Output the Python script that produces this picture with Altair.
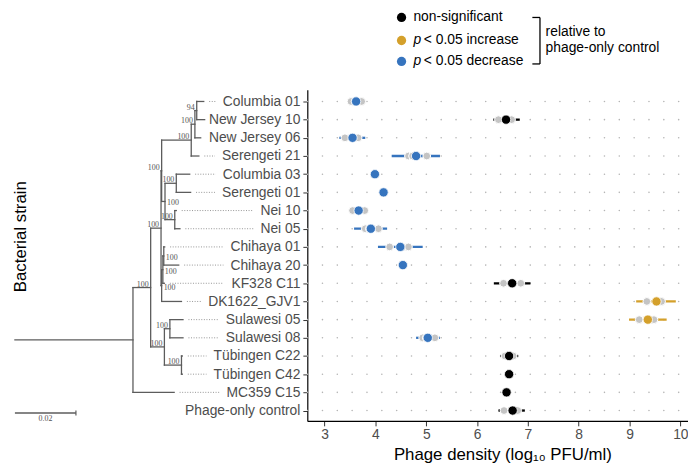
import altair as alt
import pandas as pd

# ---------------- data ----------------
strains = ["Columbia 01", "New Jersey 10", "New Jersey 06", "Serengeti 21", "Columbia 03",
           "Serengeti 01", "Nei 10", "Nei 05", "Chihaya 01", "Chihaya 20", "KF328 C11",
           "DK1622_GJV1", "Sulawesi 05", "Sulawesi 08", "Tübingen C22", "Tübingen C42",
           "MC359 C15", "Phage-only control"]
means = [3.62, 6.57, 3.55, 4.80, 3.99, 4.16, 3.67, 3.91, 4.49, 4.54, 6.69, 9.53, 9.36,
         5.03, 6.63, 6.63, 6.58, 6.70]
ci_low = [3.47, 6.32, 3.29, 4.32, 3.95, 4.12, 3.51, 3.58, 4.05, 4.50, 6.33, 9.13, 8.99,
          4.80, 6.46, 6.59, 6.54, 6.42]
ci_high = [3.78, 6.84, 3.80, 5.27, 4.03, 4.20, 3.84, 4.23, 4.93, 4.58, 7.05, 9.91, 9.73,
           5.27, 6.81, 6.67, 6.62, 6.94]
significance = ["decrease", "ns", "decrease", "decrease", "decrease", "decrease", "decrease",
                "decrease", "decrease", "decrease", "ns", "increase", "increase", "decrease",
                "ns", "ns", "ns", "ns"]
replicates = [[3.52, 3.60, 3.73], [6.42, 6.60, 6.68], [3.40, 3.58, 3.66], [4.65, 4.73, 5.01],
              [3.97, 3.99, 4.01], [4.14, 4.16, 4.18], [3.55, 3.67, 3.79], [3.80, 3.88, 4.06],
              [4.28, 4.54, 4.65], [4.52, 4.54, 4.56], [6.52, 6.69, 6.86], [9.34, 9.62, 9.63],
              [9.19, 9.40, 9.48], [4.93, 5.00, 5.17], [6.55, 6.63, 6.71], [6.61, 6.63, 6.65],
              [6.56, 6.58, 6.60], [6.53, 6.76, 6.80]]
x_ticks = [3, 4, 5, 6, 7, 8, 9, 10]

# phylogeny (tree units = substitutions/site); tips in the order of strains[0:17]
tip_depth = [0.0619, 0.0622, 0.0609, 0.0603, 0.0573, 0.0576, 0.0529, 0.0541, 0.0491, 0.0537,
             0.0490, 0.0546, 0.0551, 0.0551, 0.0549, 0.0549, 0.0522]
node_names = ["E", "D", "F", "H", "J", "K", "G", "N1", "N2", "N3", "L", "T", "U", "S", "A", "R"]
node_children = [["Columbia 01", "New Jersey 10"], ["E", "New Jersey 06"], ["D", "Serengeti 21"],
                 ["Columbia 03", "Serengeti 01"], ["Nei 10", "Nei 05"], ["H", "J"], ["F", "K"],
                 ["Chihaya 01", "Chihaya 20"], ["N1", "KF328 C11"], ["N2", "DK1622_GJV1"],
                 ["G", "N3"], ["Sulawesi 05", "Sulawesi 08"], ["Tübingen C22", "Tübingen C42"],
                 ["T", "U"], ["L", "S"], ["A", "MC359 C15"]]
node_depth = [0.0596, 0.0590, 0.0578, 0.0529, 0.0524, 0.0492, 0.0481, 0.0488, 0.0485, 0.0481,
              0.0479, 0.0508, 0.0546, 0.0490, 0.0445, 0.0387]
node_support = [94, 100, 100, 100, 100, 100, 100, 100, 100, 100, 100, 100, 100, 100, 100, None]
scale_bar = 0.02

# ---------------- layout constants ----------------
W, H = 385, 335
PLOT_LEFT = 310.7          # page x of plot origin
TREE_LEFT = 15.0           # page x of tree origin
PX_PER_UNIT = 3085.0
LABEL_RIGHT = PLOT_LEFT - 7.0
BLUE, GOLD = "#3674BE", "#D4A02B"

ARIAL = {' ': 278, '-': 333, '_': 556, 'A': 667, 'B': 667, 'C': 722, 'D': 722, 'E': 667, 'F': 611,
         'G': 778, 'H': 722, 'I': 278, 'J': 500, 'K': 667, 'L': 556, 'M': 833, 'N': 722, 'O': 778,
         'P': 667, 'R': 722, 'S': 667, 'T': 611, 'U': 722, 'V': 667, 'W': 944, 'a': 556, 'b': 556,
         'c': 500, 'd': 556, 'e': 556, 'f': 278, 'g': 556, 'h': 556, 'i': 222, 'j': 222, 'k': 500,
         'l': 222, 'm': 833, 'n': 556, 'o': 556, 'p': 556, 'r': 333, 's': 500, 't': 278, 'u': 556,
         'w': 722, 'y': 500, 'z': 500, 'ü': 556}


def text_width(s, size):
    return sum(ARIAL.get(ch, 556) for ch in s) * size / 1000.0


# ---------------- tree layout ----------------
pos_y = {s: i for i, s in enumerate(strains[:17])}
depth = {s: d for s, d in zip(strains[:17], tip_depth)}
for n, ch, d in zip(node_names, node_children, node_depth):
    depth[n] = d
    pos_y[n] = sum(pos_y[c] for c in ch) / len(ch)

segs = []
for n, ch in zip(node_names, node_children):
    ys = [pos_y[c] for c in ch]
    segs.append(dict(x=depth[n], x2=depth[n], y=min(ys), y2=max(ys)))
    for c in ch:
        segs.append(dict(x=depth[n], x2=depth[c], y=pos_y[c], y2=pos_y[c]))
segs.append(dict(x=0.0, x2=depth["R"], y=pos_y["R"], y2=pos_y["R"]))
seg_df = pd.DataFrame(segs)

leaders = []
for s in strains[:17]:
    start_px = TREE_LEFT + depth[s] * PX_PER_UNIT + 5.5
    end_px = LABEL_RIGHT - text_width(s, 14) - 7.0
    if end_px - start_px > 2:
        leaders.append(dict(x=(start_px - TREE_LEFT) / PX_PER_UNIT,
                            x2=(end_px - TREE_LEFT) / PX_PER_UNIT, y=pos_y[s]))
lead_df = pd.DataFrame(leaders)

right_side = {"K", "N1", "N2", "N3"}
lab_left = pd.DataFrame([dict(x=depth[n], y=pos_y[n], t=str(sp))
                         for n, sp in zip(node_names, node_support)
                         if sp is not None and n not in right_side])
lab_right = pd.DataFrame([dict(x=depth[n], y=pos_y[n], t=str(sp))
                          for n, sp in zip(node_names, node_support)
                          if sp is not None and n in right_side])

# ---------------- scales ----------------
y_scale = alt.Scale(domain=[-0.65, 17.57], reverse=True, nice=False, zero=False)
label_expr = "[" + ",".join("'" + s + "'" for s in strains) + "][datum.value]"
y_axis = alt.Axis(values=list(range(len(strains))), labelExpr=label_expr, title=None,
                  labelFontSize=14, labelColor="#4d4d4d", labelFont="Liberation Sans",
                  labelPadding=3, labelOverlap=False, tickSize=4.5, tickColor="#333333",
                  domainColor="black", domainWidth=1.2, grid=False)
tree_x = alt.Scale(domain=[0, 0.1], range=[TREE_LEFT - PLOT_LEFT, TREE_LEFT - PLOT_LEFT + 0.1 * PX_PER_UNIT],
                   nice=False, zero=False)
main_x = alt.Scale(domain=[2.66, 10.15], nice=False, zero=False)
x_axis = alt.Axis(values=x_ticks, title="Phage density (log₁₀ PFU/ml)", titleFontSize=17,
                  titleFont="Liberation Sans", titleFontWeight="normal", titleColor="black",
                  titleX=197.3, titlePadding=5, labelFontSize=14, labelColor="#4d4d4d",
                  labelFont="Liberation Sans", labelPadding=2, labelFlush=False, tickSize=5,
                  tickColor="#333333", domainColor="black", domainWidth=1.2, grid=False)


def Y(field="y"):
    return alt.Y(field + ":Q", scale=y_scale, axis=y_axis)


# ---------------- tree layers ----------------
branches = alt.Chart(seg_df).mark_rule(color="#5c5c5c", strokeWidth=1.3, strokeCap="square").encode(
    x=alt.X("x:Q", scale=tree_x, axis=None), x2="x2:Q", y=Y(), y2="y2:Q")
leader_lines = alt.Chart(lead_df).mark_rule(color="#7a7a7a", strokeWidth=0.8, strokeDash=[1, 1.6]).encode(
    x=alt.X("x:Q", scale=tree_x, axis=None), x2="x2:Q", y=Y())
supp_l = alt.Chart(lab_left).mark_text(align="right", baseline="alphabetic", dx=-2, dy=-1,
                                        font="Liberation Serif", fontSize=8, color="#555555").encode(
    x=alt.X("x:Q", scale=tree_x, axis=None), y=Y(), text="t:N")
supp_r = alt.Chart(lab_right).mark_text(align="left", baseline="alphabetic", dx=2, dy=4,
                                         font="Liberation Serif", fontSize=8, color="#555555").encode(
    x=alt.X("x:Q", scale=tree_x, axis=None), y=Y(), text="t:N")
sb_df = pd.DataFrame({"x": [0.0], "x2": [scale_bar], "mid": [scale_bar / 2], "t": [str(scale_bar)]})
sb_line = alt.Chart(sb_df).mark_rule(color="#5c5c5c", strokeWidth=1.3).encode(
    x=alt.X("x:Q", scale=tree_x, axis=None), x2="x2:Q", y=alt.value(415 - 88))
sb_tick = alt.Chart(sb_df).mark_rule(color="#5c5c5c", strokeWidth=1.2).encode(
    x=alt.X("x2:Q", scale=tree_x, axis=None), y=alt.value(415 - 88 - 2.5), y2=alt.value(415 - 88 + 2.5))
sb_text = alt.Chart(sb_df).mark_text(font="Liberation Serif", fontSize=8, color="#555555",
                                      baseline="middle").encode(
    x=alt.X("mid:Q", scale=tree_x, axis=None), y=alt.value(421 - 88), text="t:N")
tree = alt.layer(branches, leader_lines, supp_l, supp_r, sb_line, sb_tick, sb_text)

# ---------------- dot plot ----------------
df = pd.DataFrame({"y": list(range(len(strains))), "x": means, "lo": ci_low, "hi": ci_high,
                   "sig": significance})
rep_df = pd.DataFrame([dict(y=i, x=v) for i, reps in enumerate(replicates) for v in reps])
color = alt.Color("sig:N", scale=alt.Scale(domain=["ns", "increase", "decrease"],
                                           range=["black", GOLD, BLUE]), legend=None)

grid = alt.Chart(df).mark_rule(color="#b5b5b5", strokeWidth=1.6, strokeCap="round",
                               strokeDash=[0.01, 15], strokeDashOffset=14.7).encode(
    x=alt.value(0), x2=alt.value(W), y=Y())
err = alt.Chart(df).mark_rule(strokeWidth=2.3).encode(
    x=alt.X("lo:Q", scale=main_x, axis=x_axis), x2="hi:Q", y=Y(), color=color)
reps = alt.Chart(rep_df).mark_circle(size=62, color="#c4c4c4", opacity=1, stroke="white",
                                     strokeWidth=1).encode(
    x=alt.X("x:Q", scale=main_x, axis=x_axis), y=Y())
pts = alt.Chart(df).mark_circle(size=88, opacity=1, stroke="white", strokeWidth=0.8).encode(
    x=alt.X("x:Q", scale=main_x, axis=x_axis), y=Y(), color=color)

one = pd.DataFrame({"a": [0]})
LX = 406 - PLOT_LEFT
TX = 418 - PLOT_LEFT
legend_y = [15 - 88, 38.3 - 88, 59.5 - 88]
legend_cols = ["black", GOLD, BLUE]
legend_layers = []
for yy, col in zip(legend_y, legend_cols):
    legend_layers.append(alt.Chart(one).mark_circle(size=88, color=col, opacity=1).encode(
        x=alt.value(LX), y=alt.value(yy)))
legend_layers.append(alt.Chart(one).mark_text(text="non-significant", align="left", baseline="middle",
                                              font="Liberation Sans", fontSize=14, color="black").encode(
    x=alt.value(TX), y=alt.value(legend_y[0])))
for yy, word in zip(legend_y[1:], ["increase", "decrease"]):
    legend_layers.append(alt.Chart(one).mark_text(text="p", align="left", baseline="middle",
                                                  font="Liberation Sans", fontStyle="italic",
                                                  fontSize=14, color="black").encode(
        x=alt.value(TX), y=alt.value(yy)))
    legend_layers.append(alt.Chart(one).mark_text(text="< 0.05 " + word, align="left", baseline="middle",
                                                  font="Liberation Sans", fontSize=14, color="black").encode(
        x=alt.value(TX + 10.5), y=alt.value(yy)))
bx0, bx1 = 538.3 - PLOT_LEFT, 546 - PLOT_LEFT
by0, by1 = 15 - 88, 62 - 88
legend_layers += [
    alt.Chart(one).mark_rule(color="black", strokeWidth=1.3).encode(
        x=alt.value(bx0), x2=alt.value(bx1), y=alt.value(by0)),
    alt.Chart(one).mark_rule(color="black", strokeWidth=1.3).encode(
        x=alt.value(bx1), x2=alt.value(bx1), y=alt.value(by0), y2=alt.value(by1)),
    alt.Chart(one).mark_rule(color="black", strokeWidth=1.3).encode(
        x=alt.value(bx0), x2=alt.value(bx1), y=alt.value(by1)),
    alt.Chart(one).mark_text(text="relative to", align="left", baseline="middle",
                             font="Liberation Sans", fontSize=14, color="black").encode(
        x=alt.value(551.7 - PLOT_LEFT), y=alt.value(29.5 - 88)),
    alt.Chart(one).mark_text(text="phage-only control", align="left", baseline="middle",
                             font="Liberation Sans", fontSize=14, color="black").encode(
        x=alt.value(551.7 - PLOT_LEFT), y=alt.value(45.5 - 88)),
    alt.Chart(one).mark_text(text="Bacterial strain", angle=270, align="center", baseline="middle",
                             font="Liberation Sans", fontSize=17, color="black").encode(
        x=alt.value(21.7 - PLOT_LEFT), y=alt.value(236.7 - 88)),
]

main = alt.layer(grid, err, reps, pts, *legend_layers)

chart = alt.layer(tree, main).resolve_scale(x="independent").properties(
    width=W, height=H,
    padding={"left": PLOT_LEFT - 8, "top": 80, "right": 0, "bottom": 40},
    autosize=alt.AutoSizeParams(type="none"),
).configure_view(stroke=None)

chart.save("out.html", embed_options={"renderer": "svg", "actions": False})
